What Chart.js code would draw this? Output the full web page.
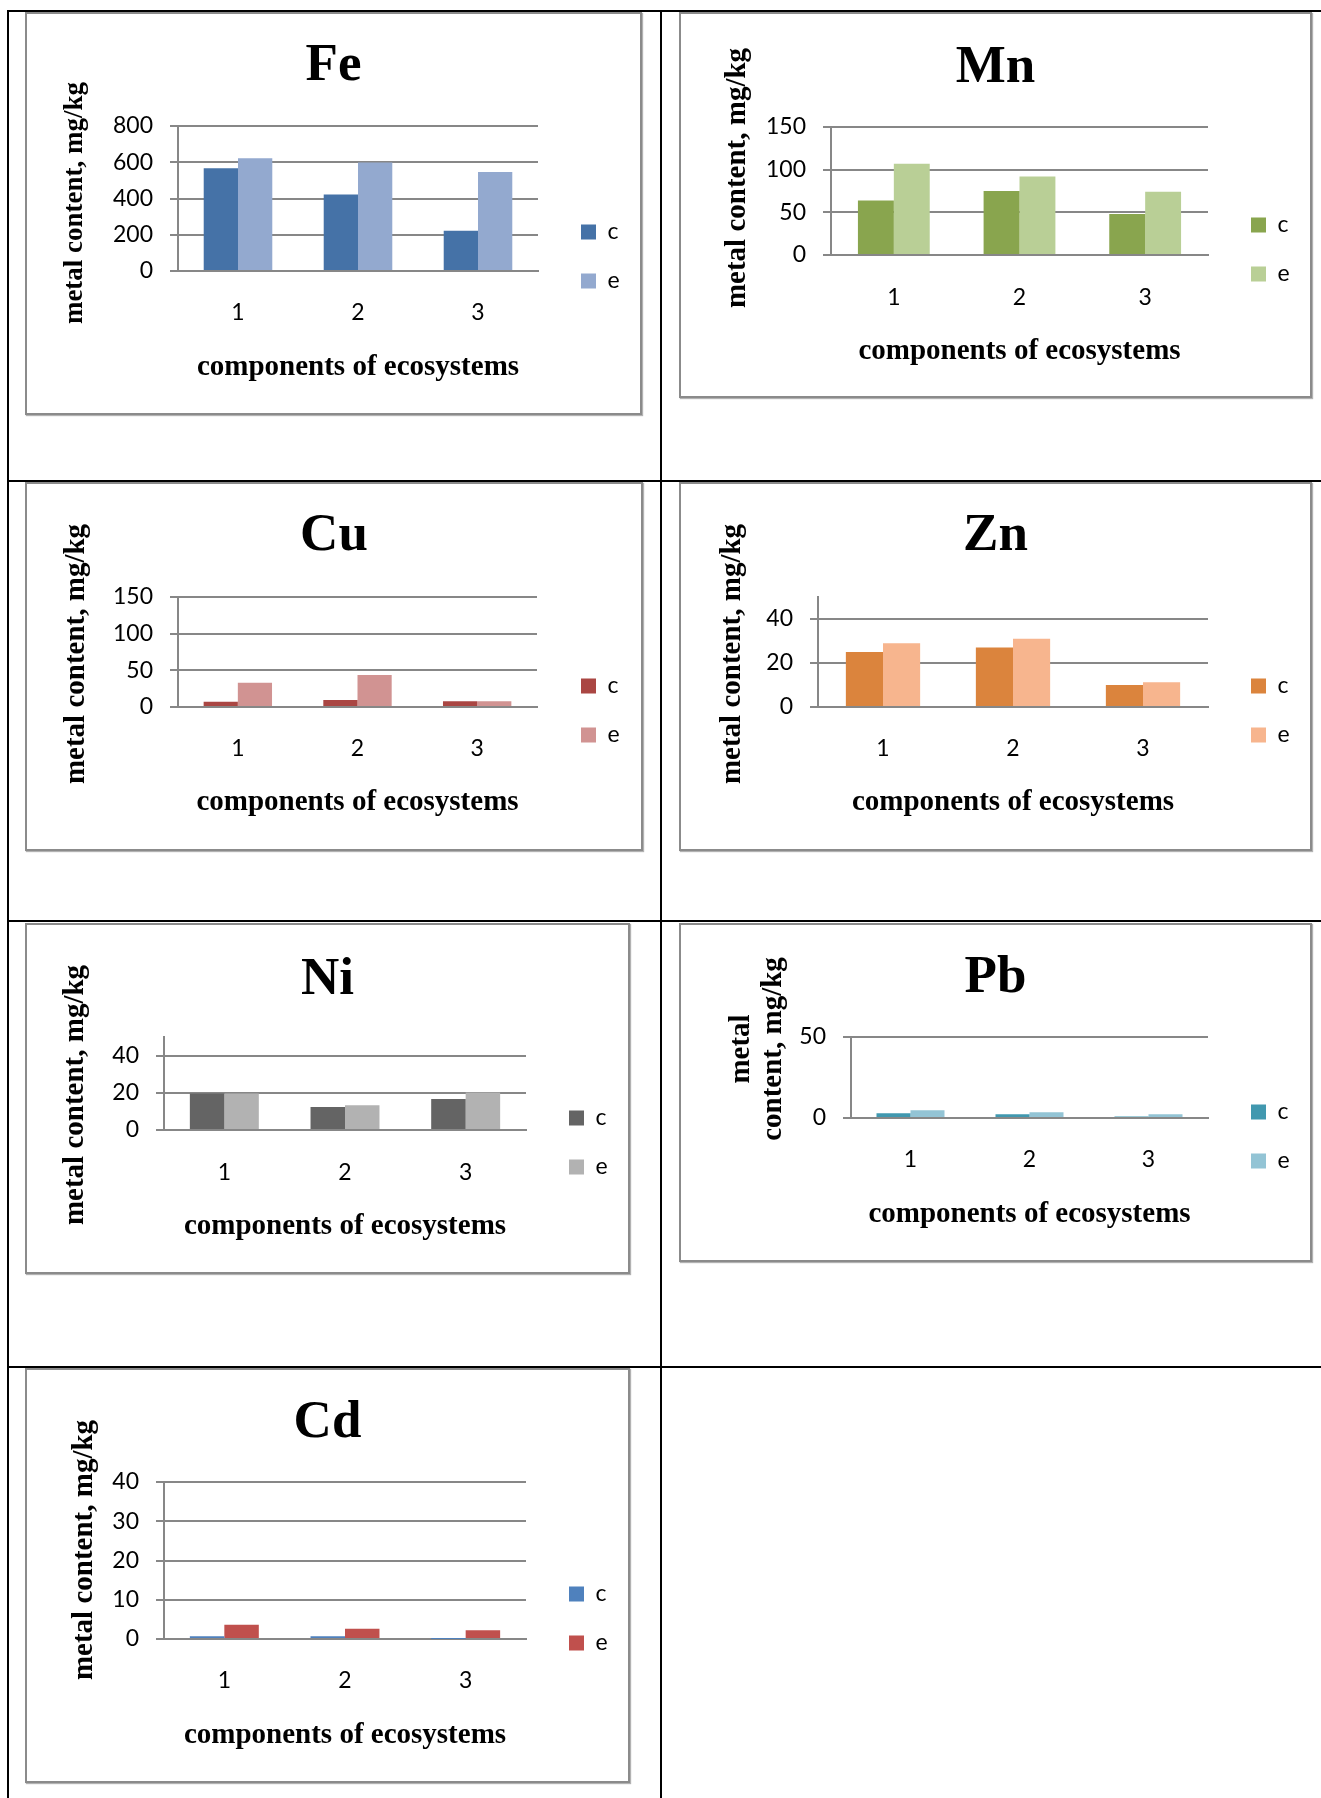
<!DOCTYPE html>
<html>
<head>
<meta charset="utf-8">
<script src="https://cdn.jsdelivr.net/npm/chart.js@4.4.1/dist/chart.umd.min.js"></script>
<style>
  html, body { margin: 0; padding: 0; background: #fff; }
  body { position: relative; width: 1321px; height: 1798px; overflow: hidden; }
  .rule { position: absolute; background: #000; }
  .box { position: absolute; box-sizing: border-box; border: 2px solid #8b8b8b; box-shadow: 1px 1px 1px rgba(0,0,0,0.3); }
  canvas { position: absolute; }
</style>
</head>
<body>
<script>
// ---- data ----
const categories = ['1', '2', '3'];
const seriesNames = ['c', 'e'];
const metals = ['Fe', 'Mn', 'Cu', 'Zn', 'Ni', 'Pb', 'Cd'];

const feC = [567, 422, 222];
const feE = [622, 598, 546];
const mnC = [64, 75, 48];
const mnE = [107, 92, 74];
const cuC = [7, 9.5, 8];
const cuE = [33, 43.5, 8];
const znC = [25, 27, 10];
const znE = [29, 31, 11.3];
const niC = [19.6, 12.3, 16.6];
const niE = [19.6, 13.3, 20.2];
const pbC = [2.9, 2.3, 1.0];
const pbE = [4.8, 3.5, 2.3];
const cdC = [0.7, 0.7, 0.02];
const cdE = [3.6, 2.6, 2.2];

const feTicks = [0, 200, 400, 600, 800];
const mnTicks = [0, 50, 100, 150];
const cuTicks = [0, 50, 100, 150];
const znTicks = [0, 20, 40];
const niTicks = [0, 20, 40];
const pbTicks = [0, 50];
const cdTicks = [0, 10, 20, 30, 40];
const axisMax = [800, 150, 150, 50, 50, 50, 40];

const seriesC = [feC, mnC, cuC, znC, niC, pbC, cdC];
const seriesE = [feE, mnE, cuE, znE, niE, pbE, cdE];
const tickSets = [feTicks, mnTicks, cuTicks, znTicks, niTicks, pbTicks, cdTicks];

const colorsC = ['#4572a7', '#89a54e', '#aa4643', '#db843d', '#646464', '#4198af', '#4f81bd'];
const colorsE = ['#93a9cf', '#b9cf96', '#d19392', '#f7b58e', '#b2b2b2', '#93c4d5', '#c0504d'];

const yTitleText = 'metal content, mg/kg';
const xTitleText = 'components of ecosystems';

// ---- page layout (pixels) ----
// box: [left, top, right, bottom], plot: [left, right, top, bottom]
const layout = [
  { box: [25, 12, 642, 415],   plot: [178, 538, 126, 271],   titleY: 63,   catY: 313,  xTitleY: 368,  yT: { x: 75,  y: 203,  size: 27 }, leg: { x: 581,  y: 232 } },
  { box: [679, 12, 1312, 398], plot: [831, 1208, 127, 255],  titleY: 65,   catY: 298,  xTitleY: 352,  yT: { x: 738, y: 178,  size: 29 }, leg: { x: 1251, y: 225 } },
  { box: [25, 482, 643, 851],  plot: [178, 537, 597, 707],   titleY: 533,  catY: 749,  xTitleY: 803,  yT: { x: 77,  y: 654,  size: 29 }, leg: { x: 581,  y: 686 } },
  { box: [679, 482, 1312, 851], plot: [818, 1208, 597, 707], titleY: 533,  catY: 749,  xTitleY: 803,  yT: { x: 733, y: 654,  size: 29 }, leg: { x: 1251, y: 686 } },
  { box: [25, 923, 630, 1274], plot: [164, 526, 1037, 1130], titleY: 977,  catY: 1173, xTitleY: 1227, yT: { x: 76,  y: 1095, size: 29 }, leg: { x: 569,  y: 1118 } },
  { box: [679, 923, 1312, 1262], plot: [851, 1208, 1037, 1118], titleY: 975, catY: 1160, xTitleY: 1215, yT: { x: 742, y: 1049, size: 29, split: true }, leg: { x: 1251, y: 1112 } },
  { box: [25, 1368, 630, 1783], plot: [164, 526, 1482, 1639], titleY: 1420, catY: 1681, xTitleY: 1736, yT: { x: 85,  y: 1550, size: 29 }, leg: { x: 569,  y: 1594 } }
];

const gridColor = '#878787';
const serif = '"Liberation Serif", "Times New Roman", serif';
const sans = 'Lato, "Open Sans", sans-serif';
const titleSize = 53, tickSize = 23, axisTitleSize = 29;
const legPad = 26, legBox = 15;

// table rules
[[7, 10, 1314, 2], [7, 10, 2, 1788], [660, 10, 2, 1788],
 [7, 480, 1314, 2], [7, 920, 1314, 2], [7, 1366, 1314, 2]].forEach(r => {
  const d = document.createElement('div');
  d.className = 'rule';
  d.style.cssText = `left:${r[0]}px;top:${r[1]}px;width:${r[2]}px;height:${r[3]}px;z-index:5`;
  document.body.appendChild(d);
});

// rotated y-axis title
const yTitlePlugin = {
  id: 'yTitle',
  afterDraw(chart, args, opts) {
    const ctx = chart.ctx;
    ctx.save();
    ctx.font = `bold ${opts.size}px ${serif}`;
    ctx.fillStyle = '#000';
    ctx.textAlign = 'center';
    ctx.textBaseline = 'middle';
    opts.lines.forEach((line, i) => {
      ctx.save();
      ctx.translate(opts.x + i * opts.gap, opts.y);
      ctx.rotate(-Math.PI / 2);
      ctx.fillText(line, 0, 0);
      ctx.restore();
    });
    ctx.restore();
  }
};

const measure = document.createElement('canvas').getContext('2d');
measure.font = `${tickSize}px ${sans}`;
const legendTextW = Math.max(...seriesNames.map(s => measure.measureText(s).width));

function makeChart(i) {
  const g = layout[i];
  const [L, T, R, B] = g.box;
  const W = R - L, H = B - T;
  const [pL, pR, pT, pB] = g.plot;

  const box = document.createElement('div');
  box.className = 'box';
  box.style.cssText = `left:${L}px;top:${T}px;width:${W}px;height:${H}px`;
  document.body.appendChild(box);

  const canvas = document.createElement('canvas');
  canvas.width = W;
  canvas.height = H;
  canvas.style.cssText = `left:${L}px;top:${T}px;width:${W}px;height:${H}px`;
  document.body.appendChild(canvas);

  const titleLH = titleSize * 1.2;
  const titleCenter = g.titleY - T + 3;
  const titlePadTop = titleCenter - titleLH / 2;
  const titlePadBottom = (pT - T) - titleCenter - titleLH / 2;

  const tickLH = tickSize * 1.2;
  const xTitleLH = axisTitleSize * 1.2;
  const tickPad = g.catY - pB - tickLH / 2;
  // chart.js reserves the tick padding twice below a horizontal axis
  const xTitlePadTop = g.xTitleY - pB - 2 * tickPad - tickLH - xTitleLH / 2;
  const xScaleH = (g.xTitleY - pB) + xTitleLH / 2;
  const padBottom = H - (pB - T) - xScaleH;

  const rightGap = g.leg.x - pR - legPad;
  const legendW = legPad + legBox + tickSize / 2 + legendTextW + 10;
  const padSide = W - (pR - L) - rightGap - legendW;
  const legTitleH = (g.leg.y - tickSize / 2) - T - legPad;

  const ticks = tickSets[i];
  const lines = g.yT.split ? ['metal', 'content, mg/kg'] : [yTitleText];

  new Chart(canvas, {
    type: 'bar',
    data: {
      labels: categories,
      datasets: [
        { label: seriesNames[0], data: seriesC[i], backgroundColor: colorsC[i], borderWidth: 0, categoryPercentage: 1 / 1.75, barPercentage: 1 },
        { label: seriesNames[1], data: seriesE[i], backgroundColor: colorsE[i], borderWidth: 0, categoryPercentage: 1 / 1.75, barPercentage: 1 }
      ]
    },
    options: {
      responsive: false,
      animation: false,
      devicePixelRatio: 1,
      events: [],
      layout: { padding: { top: 0, left: padSide, right: padSide, bottom: padBottom } },
      scales: {
        x: {
          grid: { display: false, drawTicks: false },
          border: { color: gridColor, width: 2 },
          ticks: { color: '#000', font: { family: sans, size: tickSize }, padding: tickPad, maxRotation: 0, autoSkip: false },
          title: { display: true, text: xTitleText, color: '#000', font: { family: serif, size: axisTitleSize, weight: 'bold' }, padding: { top: xTitlePadTop, bottom: 0 } }
        },
        y: {
          min: 0,
          max: axisMax[i],
          grid: { color: gridColor, lineWidth: 2, tickLength: 8, drawTicks: true },
          border: { color: gridColor, width: 2 },
          ticks: { color: '#000', font: { family: sans, size: tickSize }, padding: 17, autoSkip: false },
          afterBuildTicks(s) { s.ticks = ticks.map(v => ({ value: v })); },
          afterFit(s) { s.width = pL - L - padSide; }
        },
        yRight: {
          type: 'linear',
          position: 'right',
          display: true,
          grid: { display: false, drawTicks: false },
          border: { display: false },
          ticks: { display: false },
          afterFit(s) { s.width = rightGap; }
        }
      },
      plugins: {
        title: {
          display: true,
          text: metals[i],
          color: '#000',
          font: { family: serif, size: titleSize, weight: 'bold' },
          padding: { top: titlePadTop, bottom: titlePadBottom }
        },
        legend: {
          display: true,
          position: 'right',
          align: 'start',
          title: { display: true, text: '', font: { size: 10 }, padding: { top: legTitleH - 12, bottom: 0 } },
          labels: { boxWidth: legBox, boxHeight: legBox, padding: legPad, color: '#000', font: { family: sans, size: tickSize } }
        },
        tooltip: { enabled: false },
        yTitle: { lines: lines, x: g.yT.x - L, y: g.yT.y - T, size: g.yT.size, gap: 32 }
      }
    },
    plugins: [yTitlePlugin]
  });
}

metals.forEach((m, i) => makeChart(i));
</script>
</body>
</html>
